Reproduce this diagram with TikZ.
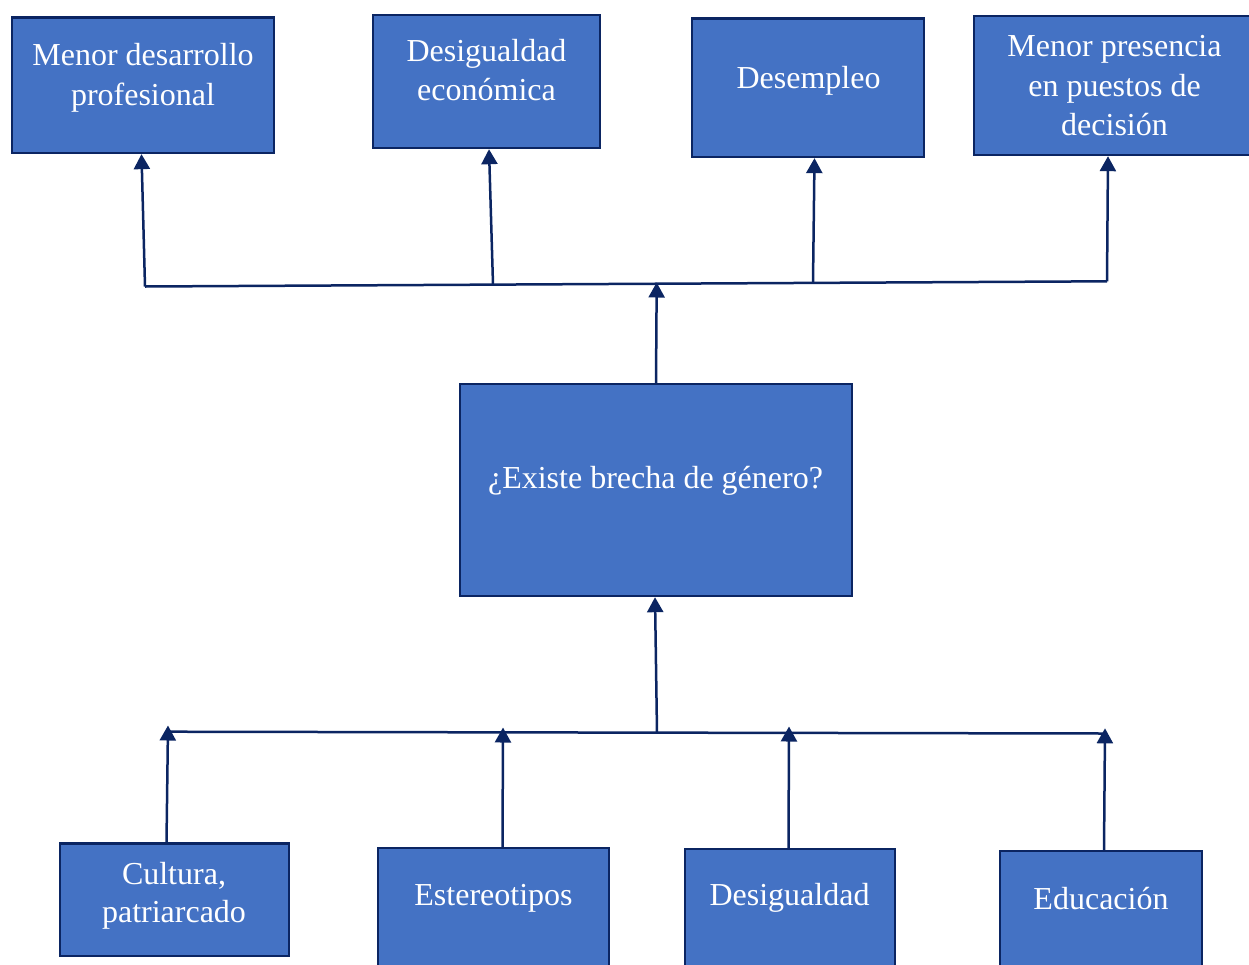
\documentclass[tikz,border=0pt]{standalone}
\usepackage{fontspec}
\setmainfont{Liberation Serif}
\usetikzlibrary{arrows.meta}
\definecolor{boxfill}{HTML}{4472C4}
\definecolor{navy}{HTML}{0B2562}
\tikzset{
  box/.style={draw=navy, line width=2.4pt, fill=boxfill, inner sep=0pt, rectangle},
  lbl/.style={text=white, inner sep=0pt, align=center, font=\fontsize{32}{40}\selectfont},
  conn/.style={draw=navy, line width=2.5pt},
  arr/.style={conn, -{Triangle[length=15pt,width=16pt]}}
}
\newcommand{\topstrut}{\rule{0pt}{28pt}}
\begin{document}
\begin{tikzpicture}[x=1pt,y=-1pt]
\useasboundingbox (0,0) rectangle (1249,964);
% top boxes
\node[box, minimum width=262pt, minimum height=135.3pt] (b1) at (143,85.3) {};
\node[box, minimum width=227pt, minimum height=133pt] (b2) at (486.5,81.5) {};
\node[box, minimum width=232pt, minimum height=138.3pt] (b3) at (808,87.8) {};
\node[box, minimum width=281pt, minimum height=139pt] (b4) at (1114.5,85.5) {};
% centre box
\node[box, minimum width=392pt, minimum height=212pt] (bc) at (656,490) {};
% bottom boxes
\node[box, minimum width=229pt, minimum height=112.3pt] (d1) at (174.5,899.8) {};
\node[box, minimum width=231pt, minimum height=152pt] (d2) at (493.5,924) {};
\node[box, minimum width=210pt, minimum height=151pt] (d3) at (790,924.5) {};
\node[box, minimum width=202pt, minimum height=149pt] (d4) at (1101,925.5) {};
% texts
\node[lbl, anchor=north] (t1) at (143,37) {\topstrut Menor desarrollo\\profesional};
\node[lbl, anchor=north, font=\fontsize{32}{39}\selectfont] (t2) at (486.5,33) {\topstrut Desigualdad\\económica};
\node[lbl, anchor=base] (t3) at (808.5,88.3) {Desempleo};
\node[lbl, anchor=north, font=\fontsize{32}{39.2}\selectfont] (t4) at (1114.5,28.7) {\topstrut Menor presencia\\en puestos de\\decisión};
\node[lbl, anchor=base] (tc) at (655.5,488) {¿Existe brecha de género?};
\node[lbl, anchor=north, font=\fontsize{32}{38.5}\selectfont] (s1) at (174,856) {\topstrut Cultura,\\patriarcado};
\node[lbl, anchor=base] (s2) at (493.5,905) {Estereotipos};
\node[lbl, anchor=base] (s3) at (789.5,905) {Desigualdad};
\node[lbl, anchor=base] (s4) at (1101,909) {Educación};
% top connectors
\coordinate (tl) at (145,286.5);
\coordinate (tr) at (1107,281.3);
\coordinate (j2) at (493,284.3);
\coordinate (j3) at (813,282.3);
\coordinate (jc) at (656.7,282.5);
\draw[conn] (tl) -- (tr);
\draw[arr] (tl) -- ([xshift=-1.5pt]b1.south);
\draw[arr] (j2) -- ([xshift=2.5pt]b2.south);
\draw[arr] (j3) -- ([xshift=6.5pt]b3.south);
\draw[arr] (tr) -- ([xshift=-6.5pt]b4.south);
\draw[arr] (bc.north) -- (jc);
% bottom connectors
\coordinate (bl) at (168,731.7);
\coordinate (br) at (1105,733.5);
\coordinate (jb) at (657,732.5);
\coordinate (a1) at (168,725.5);
\coordinate (a2) at (503,727.5);
\coordinate (a3) at (789,726.5);
\coordinate (a4) at (1105,728.3);
\draw[conn] (bl) -- (br);
\draw[arr] (jb) -- ([xshift=-1pt]bc.south);
\draw[arr] ([xshift=-8pt]d1.north) -- (a1);
\draw[arr] ([xshift=9pt]d2.north) -- (a2);
\draw[arr] ([xshift=-1.5pt]d3.north) -- (a3);
\draw[arr] ([xshift=3pt]d4.north) -- (a4);
\end{tikzpicture}
\end{document}
